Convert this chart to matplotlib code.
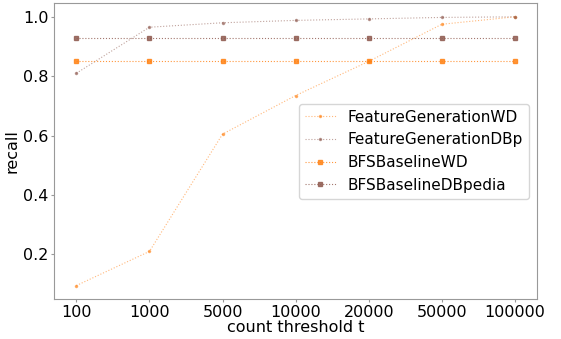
import matplotlib
matplotlib.use("Agg")
import matplotlib.pyplot as plt

thresholds = ["100", "1000", "5000", "10000", "20000", "50000", "100000"]
fg_wd = [0.095, 0.21, 0.605, 0.735, 0.85, 0.975, 1.0]
fg_dbp = [0.81, 0.965, 0.98, 0.988, 0.993, 0.998, 1.0]
bfs_wd = [0.85, 0.85, 0.85, 0.85, 0.85, 0.85, 0.85]
bfs_dbp = [0.93, 0.93, 0.93, 0.93, 0.93, 0.93, 0.93]

orange = "#ff7f0e"
brown = "#8c564b"

fig, ax = plt.subplots(figsize=(5.61, 3.39), dpi=100)
x = range(len(thresholds))

ax.plot(x, fg_wd, linestyle=":", marker=".", markersize=3, linewidth=0.8,
        color=orange, alpha=0.55, label="FeatureGenerationWD")
ax.plot(x, fg_dbp, linestyle=":", marker=".", markersize=3, linewidth=0.8,
        color=brown, alpha=0.55, label="FeatureGenerationDBp")
ax.plot(x, bfs_wd, linestyle=":", marker="s", markersize=2.5, linewidth=0.8,
        color=orange, alpha=0.8, label="BFSBaselineWD")
ax.plot(x, bfs_dbp, linestyle=":", marker="s", markersize=2.5, linewidth=0.8,
        color=brown, alpha=0.8, label="BFSBaselineDBpedia")

ax.set_xticks(list(x))
ax.set_xticklabels(thresholds)
ax.set_yticks([0.2, 0.4, 0.6, 0.8, 1.0])
ax.tick_params(labelsize=11.5, color="#999999", length=2, pad=2)
for s in ax.spines.values():
    s.set_color("#999999")

ax.set_xlabel("count threshold t", fontsize=11.5, labelpad=0)
ax.set_ylabel("recall", fontsize=11.5, labelpad=3)
ax.legend(loc="center right", fontsize=11)

fig.subplots_adjust(left=0.097, right=0.957, top=0.99, bottom=0.118)
fig.savefig("out.png")
